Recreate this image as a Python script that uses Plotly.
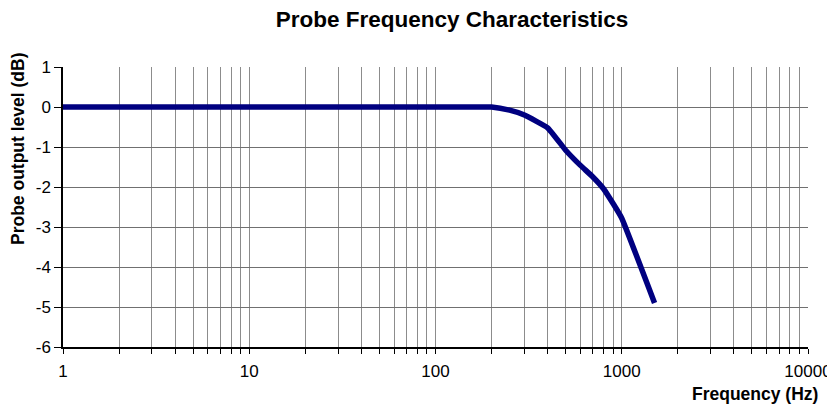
import plotly.graph_objects as go

# probe response
freq_hz = [1, 10, 100, 150, 200, 250, 300, 400, 500, 600, 700, 800, 900, 1000, 1500]
level_db = [0, 0, 0, 0, 0, -0.08, -0.2, -0.52, -1.08, -1.46, -1.75, -2.05, -2.42, -2.78, -4.9]

decade_ticks = [1, 10, 100, 1000, 10000]
grid_vals = [m * 10 ** d for d in range(4) for m in range(1, 10)] + [10000]
grid_text = [str(v) if v in decade_ticks else "" for v in grid_vals]
y_ticks = list(range(-6, 2))
y_text = [str(v) for v in y_ticks]

# page body has an 8px margin, so the layout is shifted up/left by 8px
W, H, OFF = 835, 408, 8

fig = go.Figure()
fig.add_trace(go.Scatter(x=freq_hz, y=level_db, mode='lines',
                         line=dict(color='#000080', width=5.5, shape='spline', smoothing=0.35),
                         name='Probe'))

fig.update_layout(
    width=W, height=H,
    margin=dict(l=63 - OFF, r=W - 808 + OFF, t=67 - OFF, b=H - 347 + OFF),
    paper_bgcolor='white', plot_bgcolor='white',
    showlegend=False,
    font=dict(family='Liberation Sans, Arial, sans-serif', size=17, color='black'),
    title=dict(text='<b>Probe Frequency Characteristics</b>', x=(452 - OFF) / W, xanchor='center',
               y=1 - (19 - OFF) / H, yanchor='middle', font=dict(size=22.5)),
)
fig.update_xaxes(type='log', range=[0, 4], tickvals=grid_vals, ticktext=grid_text,
                 showgrid=True, gridcolor='#8c8c8c', gridwidth=1,
                 showline=True, linecolor='black', linewidth=1.5,
                 ticks='outside', ticklen=5, tickcolor='black', zeroline=False,
                 ticklabelstandoff=3)
fig.update_yaxes(range=[-6, 1], tickvals=y_ticks, ticktext=y_text,
                 showgrid=True, gridcolor='#707070', gridwidth=1,
                 showline=True, linecolor='black', linewidth=1.5,
                 ticks='outside', ticklen=7, tickcolor='black', zeroline=False)

fig.add_annotation(text='<b>Frequency (Hz)</b>', xref='paper', yref='paper',
                   x=1, y=0, xanchor='right', yanchor='middle',
                   xshift=820 - 808, yshift=-(394 - 347), showarrow=False, font=dict(size=17.5))
fig.add_annotation(text='<b>Probe output level (dB)</b>', xref='paper', yref='paper',
                   x=0, y=1, xanchor='center', yanchor='middle',
                   xshift=18 - 63, yshift=-(149 - 67),
                   textangle=-90, showarrow=False, font=dict(size=17.5))

fig.write_html("out.html")
